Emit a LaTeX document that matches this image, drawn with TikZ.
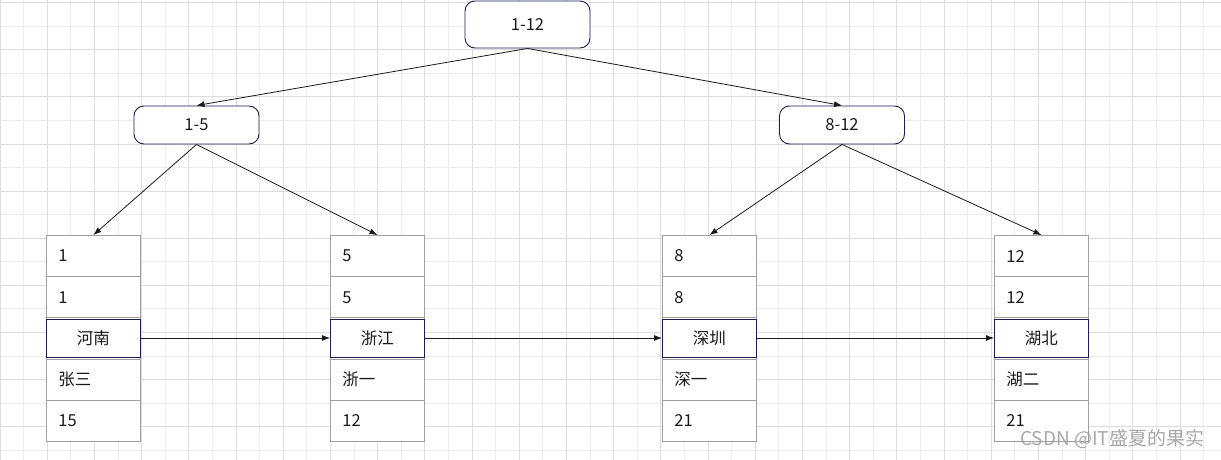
\documentclass[tikz,border=0pt]{standalone}
\usepackage{fontspec}
\setmainfont{Noto Sans CJK SC}
\usetikzlibrary{arrows.meta}
\definecolor{navy}{HTML}{1C2050}
\definecolor{cellgray}{HTML}{A0A0A0}
\definecolor{gridminor}{HTML}{EDEDED}
\definecolor{gridmajor}{HTML}{DCDCDC}
\definecolor{txt}{HTML}{1A1A1A}
\tikzset{
  rangebox/.style={draw=navy, line width=0.9pt, rounded corners=10pt, fill=white,
    minimum width=125pt, minimum height=38pt, inner sep=0pt, text=txt,
    font=\fontsize{16.5}{19}\selectfont},
  cell/.style={draw=cellgray, line width=0.9pt, fill=white, anchor=north west,
    text width=70pt, inner xsep=12pt, inner ysep=0pt, align=left,
    minimum height=41.2pt, text=txt, font=\fontsize{16.5}{19}\selectfont},
  midcell/.style={draw=navy, line width=0.9pt, fill=white, anchor=west,
    minimum width=94pt, minimum height=38pt, inner sep=0pt, text=txt,
    font=\fontsize{16.5}{19}\selectfont},
  conn/.style={draw=txt, line width=0.8pt, -{Latex[length=8pt,width=6pt]}},
}
\begin{document}
\begin{tikzpicture}[x=1pt,y=-1pt]
\useasboundingbox (0,0) rectangle (1221,460);
\fill[white] (0,0) rectangle (1221,460);
% grid
\foreach \k in {0,...,51} {\draw[gridminor, line width=0.9pt] (\k*23.6,0) -- (\k*23.6,460);}
\foreach \k in {0,...,19} {\draw[gridminor, line width=0.9pt] (0,2.7+\k*23.55) -- (1221,2.7+\k*23.55);}
\foreach \k in {0,2,...,50} {\draw[gridmajor, line width=0.9pt] (\k*23.6,0) -- (\k*23.6,460);}
\foreach \k in {0,2,...,18} {\draw[gridmajor, line width=0.9pt] (0,2.7+\k*23.55) -- (1221,2.7+\k*23.55);}

% range nodes
\node[rangebox, minimum height=47pt] (root) at (527.5,24.5) {1-12};
\node[rangebox] (left) at (196.5,125) {1-5};
\node[rangebox] (right) at (842,125) {8-12};

% tables
\foreach \t/\x/\a/\b/\c/\d/\e in {
  1/46/1/1/河南/张三/15,
  2/330/5/5/浙江/浙一/12,
  3/662/8/8/深圳/深一/21,
  4/994/12/12/湖北/湖二/21} {
  \node[cell] (t\t r1) at (\x,235) {\a};
  \node[cell] (t\t r2) at (\x,276.2) {\b};
  \node[cell] (t\t r3) at (\x,317.4) {};
  \node[cell] (t\t r4) at (\x,358.6) {\d};
  \node[cell] (t\t r5) at (\x,399.8) {\e};
  \node[midcell] (t\t m) at (\x,338) {\c};
}

% connectors
\draw[conn] (root.south) -- (left.north);
\draw[conn] (root.south) -- (right.north);
\draw[conn] (left.south) -- (t1r1.north);
\draw[conn] (left.south) -- (t2r1.north);
\draw[conn] (right.south) -- (t3r1.north);
\draw[conn] (right.south) -- (t4r1.north);
\draw[conn] (t1m.east) -- (t2m.west);
\draw[conn] (t2m.east) -- (t3m.west);
\draw[conn] (t3m.east) -- (t4m.west);

% watermark
\node[text=gray!75, opacity=0.9, anchor=west, inner sep=0pt, font=\fontsize{19}{21}\selectfont] (wm) at (1020,439) {CSDN @IT盛夏的果实};
\end{tikzpicture}
\end{document}
